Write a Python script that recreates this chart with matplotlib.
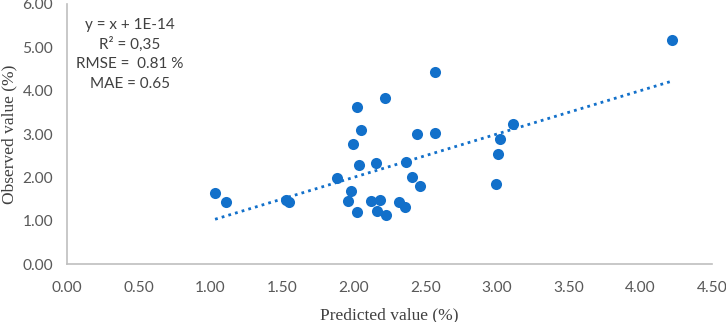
import matplotlib
matplotlib.use("Agg")
import matplotlib.pyplot as plt
import numpy as np

predicted = [1.033, 1.107, 1.528, 1.551, 1.882, 1.980, 1.963, 2.021, 1.993, 2.024,
             2.052, 2.035, 2.219, 2.154, 2.119, 2.184, 2.163, 2.224, 2.319, 2.356,
             2.368, 2.410, 2.463, 2.442, 2.566, 2.566, 3.110, 3.022, 3.006, 2.996, 4.224]
observed = [1.63, 1.44, 1.48, 1.43, 1.98, 1.69, 1.46, 1.19, 2.77, 3.62,
            3.09, 2.29, 3.83, 2.32, 1.45, 1.48, 1.22, 1.12, 1.44, 1.32,
            2.35, 2.00, 1.80, 3.00, 3.02, 4.43, 3.23, 2.89, 2.54, 1.85, 5.17]
trend_slope = 1.0
trend_intercept = 1e-14
xticks = [0.0, 0.5, 1.0, 1.5, 2.0, 2.5, 3.0, 3.5, 4.0, 4.5]
yticks = [0, 1, 2, 3, 4, 5, 6]
stats_lines = ["y = x + 1E-14", "R² = 0,35", "RMSE =  0.81 %", "MAE = 0.65"]

blue = "#1270CA"
fig = plt.figure(figsize=(7.26, 3.22), dpi=100)
ax = fig.add_axes([0.0923, 0.180, 0.8884, 0.8076])

ax.scatter(predicted, observed, s=64, color=blue, zorder=3, linewidths=0)
xs = np.array([min(predicted), max(predicted)])
ax.plot(xs, trend_slope * xs + trend_intercept, linestyle=(0, (1, 1.5)),
        color=blue, linewidth=2.0, zorder=2)

ax.set_xlim(0, 4.5)
ax.set_ylim(0, 6)
ax.set_xticks(xticks)
ax.set_yticks(yticks)
ax.set_xticklabels([f"{v:.2f}" for v in xticks])
ax.set_yticklabels([f"{v:.2f}" for v in yticks])
ax.tick_params(length=0, labelsize=11.2, labelcolor="#595959")
ax.tick_params(axis="x", pad=12)
ax.tick_params(axis="y", pad=10)
for lab in ax.get_xticklabels() + ax.get_yticklabels():
    lab.set_family("Lato")
for s in ["top", "right"]:
    ax.spines[s].set_visible(False)
for s in ["left", "bottom"]:
    ax.spines[s].set_color("#bfbfbf")
    ax.spines[s].set_linewidth(1.2)

ax.set_xlabel("Predicted value (%)", family="Liberation Serif", fontsize=12.5,
              color="#404040", labelpad=9)
fig.text(9 / 726, 1 - 134 / 322, "Observed value (%)", rotation=90,
         ha="center", va="center", family="Liberation Serif", fontsize=12.5,
         color="#404040")

for i, t in enumerate(stats_lines):
    ax.text(0.44, 5.52 - i * 0.455, t, ha="center", va="center", family="Lato",
            fontsize=11, color="#404040")

fig.savefig("out.png", dpi=100)
